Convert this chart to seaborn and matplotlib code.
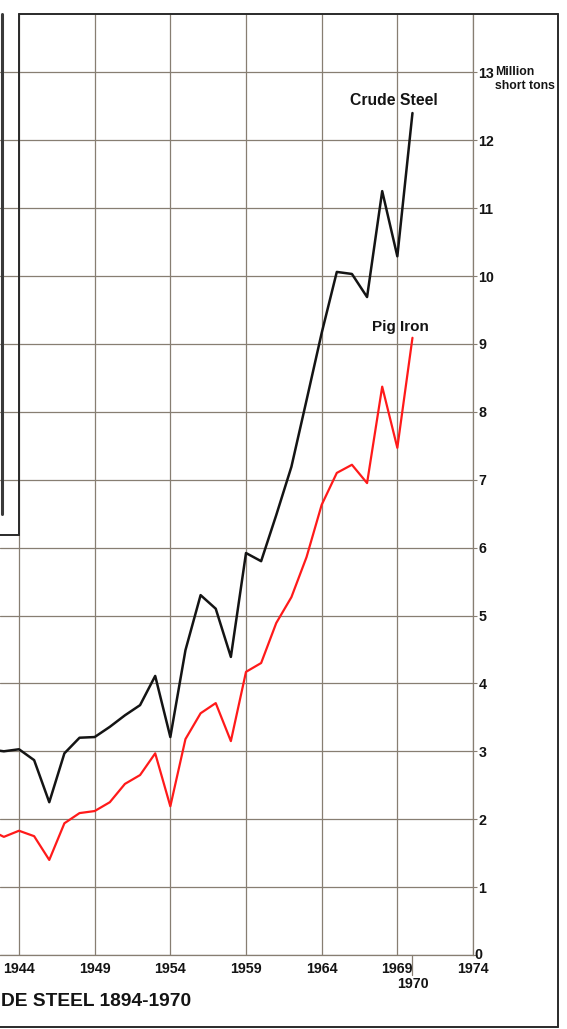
"""
Pig iron and crude steel output, 1942-1970 (million short tons).
Recreated from a scanned chart fragment.
"""

import numpy as np
import pandas as pd
import matplotlib
matplotlib.use("Agg")
import matplotlib.pyplot as plt
from matplotlib.lines import Line2D
import seaborn as sns

# ==========================================
# data
# ==========================================
years = list(range(1942, 1971))
crude_steel = [3.03, 3.00, 3.03, 2.87, 2.25, 2.97, 3.20, 3.21, 3.36, 3.53,
               3.68, 4.11, 3.21, 4.49, 5.30, 5.10, 4.39, 5.92, 5.80, 6.48,
               7.19, 8.17, 9.16, 10.06, 10.03, 9.69, 11.25, 10.29, 12.40]
pig_iron = [1.85, 1.74, 1.83, 1.75, 1.40, 1.94, 2.09, 2.12, 2.25, 2.52,
            2.65, 2.97, 2.19, 3.18, 3.56, 3.71, 3.15, 4.17, 4.30, 4.89,
            5.27, 5.86, 6.63, 7.10, 7.22, 6.95, 8.37, 7.47, 9.09]
x_ticks = [1944, 1949, 1954, 1959, 1964, 1969, 1974]
y_ticks = list(range(0, 14))

df = pd.DataFrame({"year": years, "Crude Steel": crude_steel, "Pig Iron": pig_iron})

# ==========================================
# style
# ==========================================
W, H = 567, 1029
sns.set_style("white")
plt.rcParams["font.family"] = ["Liberation Sans", "DejaVu Sans"]

GRID = "#877e72"
INK = "#141414"
TICK_FS = 10.3

fig = plt.figure(figsize=(W / 100, H / 100), dpi=100)


def fx(x):
    return x / W


def fy(y):
    return 1 - y / H


# axes: left edge of the picture to the 1974 line, bottom axis to top frame
ax = fig.add_axes([0, fy(955), fx(473), fy(14) - fy(955)])
px_per_year = (473 - 19) / 30
ax.set_xlim(1944 - 19 / px_per_year, 1974)
ax.set_ylim(0, (955 - 14) / 67.9)

sns.lineplot(data=df, x="year", y="Crude Steel", color=INK, linewidth=1.8, ax=ax)
sns.lineplot(data=df, x="year", y="Pig Iron", color="#ff1a1a", linewidth=1.6, ax=ax)

ax.set_xticks(x_ticks)
ax.set_yticks(y_ticks)
ax.grid(True, color=GRID, linewidth=0.9)
ax.set_axisbelow(True)
for side in ["top", "left"]:
    ax.spines[side].set_visible(False)
for side in ["bottom", "right"]:
    ax.spines[side].set_color(GRID)
    ax.spines[side].set_linewidth(0.9)

ax.yaxis.tick_right()
ax.tick_params(axis="y", length=3, color=GRID, pad=1, labelsize=TICK_FS)
ax.tick_params(axis="x", length=0, pad=5, labelsize=TICK_FS)
ax.set_yticklabels([str(v) if v else "" for v in y_ticks], fontweight="bold", color=INK)
ax.set_xticklabels([str(v) for v in x_ticks], fontweight="bold", color=INK)
ax.set_xlabel("")
ax.set_ylabel("")

# zero sits a bit higher than the other labels, 1970 hangs below
ax.text(1.003, 0.0, "0", transform=ax.transAxes, ha="left", va="center",
        fontsize=TICK_FS, fontweight="bold", color=INK, clip_on=False)
ax.plot([1970, 1970], [0, -0.3], color=GRID, linewidth=0.9, clip_on=False)
ax.text(1970, -0.33, "1970", ha="center", va="top", fontsize=TICK_FS,
        fontweight="bold", color=INK, clip_on=False)

# series labels
ax.text(1965.9, 12.59, "Crude Steel", ha="left", va="center", fontsize=11.3,
        fontweight="bold", color=INK)
ax.text(1967.3, 9.25, "Pig Iron", ha="left", va="center", fontsize=11,
        fontweight="bold", color=INK)

fig.text(fx(495), fy(72), "Million", ha="left", va="center", fontsize=8.8,
         fontweight="bold", color=INK)
fig.text(fx(495), fy(86), "short tons", ha="left", va="center", fontsize=8.8,
         fontweight="bold", color=INK)

# title, the scan shows only its right part
fig.text(fx(1), fy(1001), "DE STEEL 1894-1970", ha="left", va="center",
         fontsize=13.8, fontweight="bold", color=INK)

# frame lines of the page and the inset box at upper left
frame = [
    ([19, 558], [14, 14]),
    ([558, 558], [14, 1027]),
    ([0, 558], [1027, 1027]),
    ([19, 19], [14, 535]),
    ([0, 19], [535, 535]),
]
for xs, ys in frame:
    fig.add_artist(Line2D([fx(v) for v in xs], [fy(v) for v in ys],
                          color="#2a2a2a", linewidth=1.4))
fig.add_artist(Line2D([fx(1.5), fx(1.5)], [fy(14), fy(514)],
                      color="#3a3a3a", linewidth=2.2))

fig.savefig("out.png", dpi=100)
plt.close(fig)
